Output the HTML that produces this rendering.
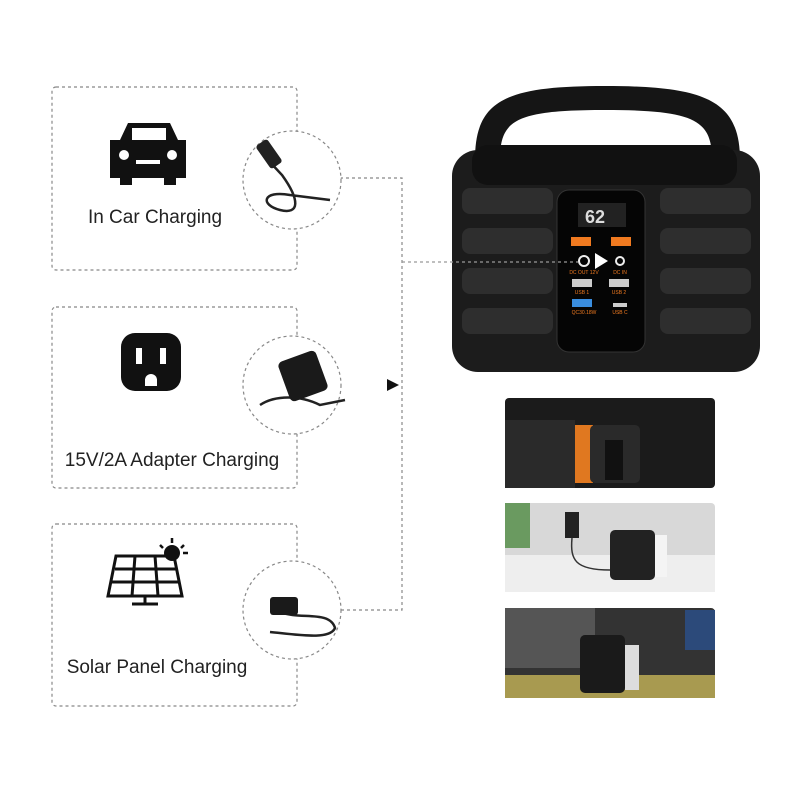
<!DOCTYPE html>
<html><head><style>
html,body{margin:0;padding:0;background:#fff;}
svg{display:block}
text{font-family:"Liberation Sans",sans-serif;}
</style></head><body>
<svg width="800" height="800" viewBox="0 0 800 800" xmlns="http://www.w3.org/2000/svg">
<rect width="800" height="800" fill="#fff"/>
<g fill="none" stroke="#888" stroke-width="1.2" stroke-dasharray="3,3">
<rect x="52" y="87" width="245" height="183" rx="4"/>
<rect x="52" y="307" width="245" height="181" rx="4"/>
<rect x="52" y="524" width="245" height="182" rx="4"/>
<path d="M340 178 H402 V610 H340"/>
</g>
<g fill="#fff" stroke="#888" stroke-width="1.2" stroke-dasharray="3,3">
<circle cx="292" cy="180" r="49"/>
<circle cx="292" cy="385" r="49"/>
<circle cx="292" cy="610" r="49"/>
</g>
<polygon points="387,379 399,385 387,391" fill="#111"/>
<g fill="none" stroke="#222" stroke-width="2.5">
<path d="M268 160 L282 175 C300 200 300 215 280 210 C260 205 262 190 290 195 L330 200"/>
<path d="M260 405 C275 395 300 395 320 405 L345 400"/>
<path d="M280 612 C300 620 330 610 335 628 C330 640 300 635 270 632"/>
</g>
<rect x="262" y="140" width="14" height="28" rx="3" fill="#222" transform="rotate(-35 269 154)"/>
<rect x="283" y="355" width="40" height="42" rx="5" fill="#1a1a1a" transform="rotate(-20 303 376)"/>
<rect x="270" y="597" width="28" height="18" rx="3" fill="#1a1a1a"/>
<g fill="#111">
<path d="M120 140 L128 123 H170 L178 140 H186 V178 H176 V185 H164 V178 H132 V185 H120 V178 H110 V140 Z"/>
<rect x="132" y="128" width="34" height="12" fill="#fff"/>
<circle cx="124" cy="155" r="5" fill="#fff"/><circle cx="172" cy="155" r="5" fill="#fff"/>
<rect x="136" y="160" width="24" height="4" fill="#fff"/>
</g>
<rect x="121" y="333" width="60" height="58" rx="14" fill="#111"/>
<rect x="136" y="348" width="6" height="16" fill="#fff"/><rect x="160" y="348" width="6" height="16" fill="#fff"/>
<path d="M145 380 a6 6 0 0 1 12 0 v6 h-12z" fill="#fff"/>
<g stroke="#111" stroke-width="3" fill="none">
<polygon points="116,556 174,556 182,596 108,596"/>
<path d="M115 569 H177 M112 582 H180 M135 556 L132 596 M155 556 L158 596"/>
<path d="M145 596 V603 M132 604 H158"/>
</g>
<circle cx="172" cy="553" r="8" fill="#111"/>
<g stroke="#111" stroke-width="2.5"><path d="M172 538 V543 M184 545 L181 548 M188 553 H183 M160 545 L163 548"/></g>
<g font-size="19" fill="#222" text-anchor="middle">
<text x="155" y="223">In Car Charging</text>
<text x="172" y="466">15V/2A Adapter Charging</text>
<text x="157" y="673">Solar Panel Charging</text>
</g>
<!-- power station -->
<path d="M475 160 C475 100 505 86 605 86 C705 86 740 100 740 160 L712 160 C712 120 695 110 605 110 C515 110 500 120 500 160 Z" fill="#151515"/>
<rect x="452" y="150" width="308" height="222" rx="26" fill="#1c1c1c"/>
<rect x="472" y="145" width="265" height="40" rx="16" fill="#111"/>
<g fill="#2e2e2e">
<rect x="462" y="188" width="91" height="26" rx="8"/><rect x="462" y="228" width="91" height="26" rx="8"/><rect x="462" y="268" width="91" height="26" rx="8"/><rect x="462" y="308" width="91" height="26" rx="8"/>
<rect x="660" y="188" width="91" height="26" rx="8"/><rect x="660" y="228" width="91" height="26" rx="8"/><rect x="660" y="268" width="91" height="26" rx="8"/><rect x="660" y="308" width="91" height="26" rx="8"/>
</g>
<rect x="557" y="190" width="88" height="162" rx="12" fill="#050505" stroke="#333"/>
<rect x="578" y="203" width="48" height="24" fill="#222"/>
<text x="595" y="223" font-size="18" fill="#ddd" text-anchor="middle" font-weight="bold">62</text>
<rect x="571" y="237" width="20" height="9" fill="#f07a20"/><rect x="611" y="237" width="20" height="9" fill="#f07a20"/>
<path d="M402 262 H578" fill="none" stroke="#999" stroke-width="1.2" stroke-dasharray="3,3"/>
<circle cx="584" cy="261" r="5" fill="none" stroke="#eee" stroke-width="2"/>
<polygon points="595,253 608,261 595,269" fill="#fff"/>
<circle cx="620" cy="261" r="4" fill="none" stroke="#eee" stroke-width="2"/>
<rect x="572" y="279" width="20" height="8" fill="#ccc"/><rect x="609" y="279" width="20" height="8" fill="#ccc"/>
<rect x="572" y="299" width="20" height="8" fill="#3a8ee0"/><rect x="613" y="303" width="14" height="4" fill="#ccc"/>
<g font-size="5" fill="#f07a20" text-anchor="middle"><text x="584" y="274">DC OUT 12V</text><text x="620" y="274">DC IN</text><text x="582" y="294">USB 1</text><text x="619" y="294">USB 2</text><text x="584" y="314">QC30.18W</text><text x="620" y="314">USB C</text></g>
<!-- photos -->
<rect x="505" y="398" width="210" height="90" rx="4" fill="#1b1b1b"/>
<rect x="505" y="420" width="70" height="68" fill="#2a2a2a"/>
<rect x="575" y="425" width="18" height="58" fill="#e07820"/>
<rect x="590" y="425" width="50" height="58" rx="5" fill="#2a2a2a"/>
<rect x="605" y="440" width="18" height="40" fill="#111"/>
<rect x="505" y="503" width="210" height="89" rx="4" fill="#d8d8d8"/>
<rect x="505" y="555" width="210" height="37" fill="#eee"/>
<rect x="505" y="503" width="25" height="45" fill="#6a9a60"/>
<rect x="610" y="530" width="45" height="50" rx="5" fill="#222"/>
<rect x="655" y="535" width="12" height="42" fill="#f4f4f4"/>
<rect x="565" y="512" width="14" height="26" fill="#222"/>
<path d="M572 538 C570 560 575 570 610 570" fill="none" stroke="#333" stroke-width="1.5"/>
<rect x="505" y="608" width="210" height="90" rx="4" fill="#333"/>
<rect x="505" y="675" width="210" height="23" fill="#a89a50"/>
<rect x="505" y="608" width="90" height="60" fill="#555"/>
<rect x="685" y="610" width="30" height="40" fill="#2c4a7a"/>
<rect x="580" y="635" width="45" height="58" rx="5" fill="#1a1a1a"/>
<rect x="625" y="645" width="14" height="45" fill="#ddd"/>
</svg>
</body></html>
